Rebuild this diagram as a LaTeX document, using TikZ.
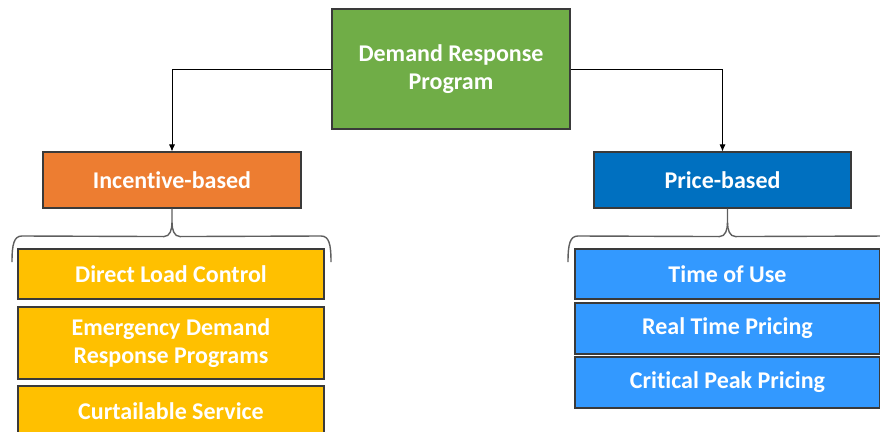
\documentclass[tikz,border=0pt]{standalone}
\usepackage{fontspec}
\setmainfont[Ligatures=NoCommon]{Carlito}
\usetikzlibrary{arrows.meta}
\definecolor{rootgreen}{HTML}{70AD47}
\definecolor{incorange}{HTML}{ED7D31}
\definecolor{pricedark}{HTML}{0070C0}
\definecolor{incyellow}{HTML}{FFC000}
\definecolor{pricelight}{HTML}{3399FF}
\definecolor{boxedge}{HTML}{3A3A3A}
\definecolor{bracegray}{HTML}{5E5E5E}
\tikzset{
  box/.style={draw=boxedge, line width=1.1pt, inner sep=0pt, align=center,
    text=white, font=\fontsize{24}{28}\selectfont\bfseries},
  link/.style={draw=black, line width=0.8pt, -{Latex[length=7pt,width=6pt]}},
  bracket/.style={draw=bracegray, line width=1.4pt},
}
\begin{document}
\begin{tikzpicture}[x=1pt, y=-1pt]
  \useasboundingbox (0,0) rectangle (880,431);
  \clip (0,0) rectangle (880,431);

  % top level
  \node[box, fill=rootgreen, minimum width=238pt, minimum height=120pt] (root) at (451,69)
    {Demand Response\\Program};

  % two program families
  \node[box, fill=incorange, minimum width=258pt, minimum height=56pt] (inc) at (172,180)
    {Incentive-based};
  \node[box, fill=pricedark, minimum width=257pt, minimum height=56pt] (pri) at (722.5,180)
    {Price-based};

  % incentive-based programs
  \node[box, fill=incyellow, minimum width=306pt, minimum height=50pt] (dlc) at (171,274)
    {Direct Load Control};
  \node[box, fill=incyellow, minimum width=306pt, minimum height=72pt] (edrp) at (171,343)
    {Emergency Demand\\Response Programs};
  \node[box, fill=incyellow, minimum width=306pt, minimum height=50pt] (cs) at (171,411)
    {Curtailable Service};

  % price-based programs
  \node[box, fill=pricelight, minimum width=305pt, minimum height=50pt] (tou) at (727.5,274)
    {Time of Use};
  \node[box, fill=pricelight, minimum width=305pt, minimum height=51pt] (rtp) at (727.5,328.5)
    {Real Time Pricing};
  \node[box, fill=pricelight, minimum width=305pt, minimum height=51pt] (cpp) at (727.5,382.5)
    {Critical Peak Pricing};

  % elbow connectors from the root
  \draw[link] (root.west) -| (inc.north);
  \draw[link] (root.east) -| (pri.north);

  % curly brackets grouping each family's programs
  \draw[bracket]
    (inc.south) -- ++(0,14)
    .. controls +(0,7) and +(6,0) .. ++(-8,14)
    -- (22,236) .. controls (14,236) and (12,244) .. (12,262);
  \draw[bracket]
    (inc.south) ++(0,14)
    .. controls +(0,7) and +(-6,0) .. ++(8,14)
    -- (321,236) .. controls (329,236) and (331,244) .. (331,262);
  \draw[bracket]
    (pri.south) ++(5,0) coordinate (pb) -- ++(0,14)
    .. controls +(0,7) and +(6,0) .. ++(-8,14)
    -- (578,236) .. controls (570,236) and (568,244) .. (568,262);
  \draw[bracket]
    (pb) ++(0,14)
    .. controls +(0,7) and +(-6,0) .. ++(8,14)
    -- (890,236);
\end{tikzpicture}
\end{document}
